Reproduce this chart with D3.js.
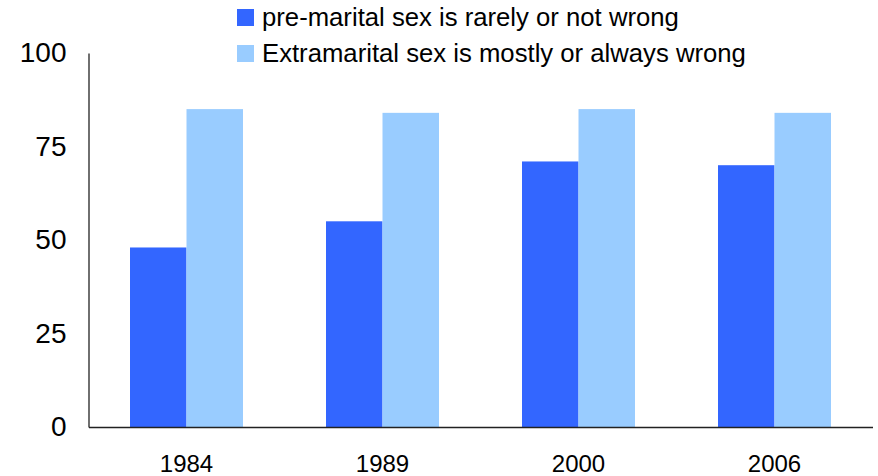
<!DOCTYPE html>
<html>
<head>
<meta charset="utf-8">
<script src="https://cdn.jsdelivr.net/npm/d3@7"></script>
<style>
  html, body { margin: 0; padding: 0; background: #fff; }
  svg { display: block; font-family: Arial, "Liberation Sans", sans-serif; }
</style>
</head>
<body>
<svg id="chart" width="878" height="476"></svg>
<script>
const years = ["1984", "1989", "2000", "2006"];
const seriesNames = ["pre-marital sex is rarely or not wrong", "Extramarital sex is mostly or always wrong"];
const premarital = [48, 55, 71, 70];
const extramarital = [85, 84, 85, 84];
const yTicks = [0, 25, 50, 75, 100];
const colors = ["#3366FF", "#99CCFF"];

(function () {
const svg = d3.select("#chart");
const mLeft = 88.5, mRight = 872.5, mTop = 53, mBottom = 427;

const x = d3.scaleBand().domain(years).range([mLeft, mRight])
  .paddingInner(0.4235).paddingOuter(0.21175);
const x1 = d3.scaleBand().domain([0, 1]).range([0, x.bandwidth()]);
const y = d3.scaleLinear().domain([0, 100]).range([mBottom, mTop]);

const seriesValues = [premarital, extramarital];

seriesValues.forEach((vals, s) => {
  svg.append("g").selectAll("rect").data(years).join("rect")
    .attr("x", d => x(d) + x1(s))
    .attr("y", (d, i) => y(vals[i]))
    .attr("width", x1.bandwidth())
    .attr("height", (d, i) => y(0) - y(vals[i]))
    .attr("fill", colors[s]);
});

const yAxis = svg.append("g").attr("transform", `translate(${mLeft},0)`)
  .call(d3.axisLeft(y).tickValues(yTicks).tickSize(0).tickPadding(22));
yAxis.select(".domain").attr("stroke", "#222").attr("stroke-width", 1.3);
yAxis.selectAll("text").attr("font-size", 28).attr("fill", "#000")
  .attr("font-family", "Arial, 'Liberation Sans', sans-serif");

const xAxis = svg.append("g").attr("transform", `translate(0,${mBottom})`)
  .call(d3.axisBottom(x).tickSize(0).tickPadding(28));
xAxis.select(".domain").attr("stroke", "#222").attr("stroke-width", 1.3);
xAxis.selectAll("text").attr("font-size", 24).attr("fill", "#000")
  .attr("font-family", "Arial, 'Liberation Sans', sans-serif");

const legend = svg.append("g");
seriesNames.forEach((name, i) => {
  const g = legend.append("g").attr("transform", `translate(237,${9 + i * 36})`);
  g.append("rect").attr("width", 17).attr("height", 17).attr("fill", colors[i]);
  g.append("text").attr("x", 25).attr("y", 17)
    .attr("font-size", 25.7).attr("fill", "#000").text(name);
});
})();
</script>
</body>
</html>
